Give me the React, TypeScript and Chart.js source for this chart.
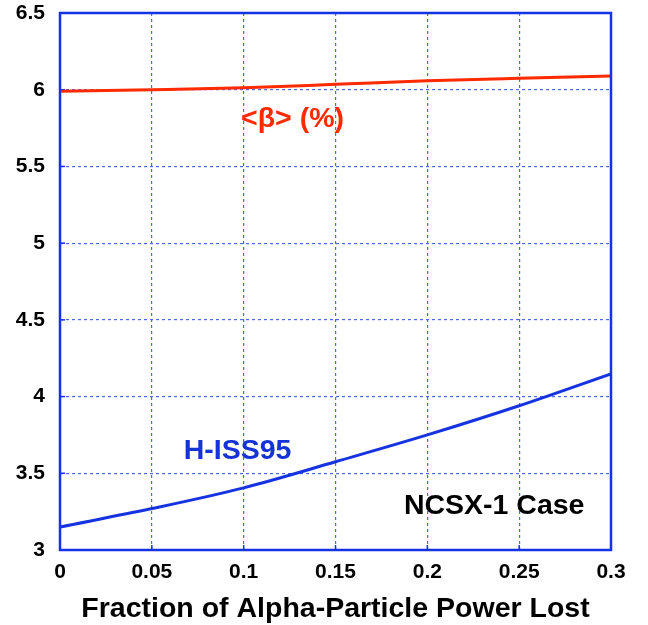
import React, { useEffect, useRef } from "react";
import { Chart, registerables } from "chart.js";

Chart.register(...registerables);

const fractionLost = [0, 0.05, 0.1, 0.15, 0.2, 0.25, 0.3];
const betaPercent = [5.99, 6.0, 6.013, 6.035, 6.058, 6.075, 6.09];
const hIss95 = [3.15, 3.27, 3.405, 3.575, 3.75, 3.94, 4.148];

const xMin = 0;
const xMax = 0.3;
const xStep = 0.05;
const yMin = 3;
const yMax = 6.5;
const yStep = 0.5;

const labels = [
  { text: "<β> (%)", x: 0.1266, y: 5.81, color: "#ff2a00" },
  { text: "H-ISS95", x: 0.0967, y: 3.642, color: "#1533d6" },
  { text: "NCSX-1 Case", x: 0.2364, y: 3.284, color: "#000000" },
];

const FONT = "'Liberation Sans', Arial, Helvetica, sans-serif";
const AXIS_BLUE = "#1533e6";
const GRID_BLUE = "#4d68f0";

const framePlugin = {
  id: "frameAndLabels",
  beforeDatasetsDraw(chart: any) {
    const { ctx, chartArea, scales } = chart;
    ctx.save();
    ctx.strokeStyle = AXIS_BLUE;
    ctx.lineWidth = 1.5;
    ctx.setLineDash([]);
    const xs = scales.x;
    const ys = scales.y;
    xs.ticks.forEach((t: any) => {
      const px = xs.getPixelForValue(t.value);
      ctx.beginPath();
      ctx.moveTo(px, chartArea.bottom);
      ctx.lineTo(px, chartArea.bottom - 5);
      ctx.stroke();
    });
    ys.ticks.forEach((t: any) => {
      const py = ys.getPixelForValue(t.value);
      ctx.beginPath();
      ctx.moveTo(chartArea.left, py);
      ctx.lineTo(chartArea.left + 5, py);
      ctx.stroke();
    });
    ctx.restore();
  },
  afterDatasetsDraw(chart: any) {
    const { ctx, chartArea, scales } = chart;
    ctx.save();
    ctx.strokeStyle = AXIS_BLUE;
    ctx.lineWidth = 2.5;
    ctx.setLineDash([]);
    ctx.strokeRect(
      chartArea.left,
      chartArea.top,
      chartArea.right - chartArea.left,
      chartArea.bottom - chartArea.top
    );
    ctx.font = `bold 28.5px ${FONT}`;
    ctx.textAlign = "center";
    ctx.textBaseline = "middle";
    labels.forEach((l) => {
      ctx.fillStyle = l.color;
      ctx.fillText(l.text, scales.x.getPixelForValue(l.x), scales.y.getPixelForValue(l.y));
    });
    ctx.restore();
  },
};

export default function App() {
  const ref = useRef<HTMLCanvasElement | null>(null);
  useEffect(() => {
    document.body.style.margin = "0";
    if (!ref.current) return;
    const chart = new Chart(ref.current, {
      type: "line",
      data: {
        datasets: [
          {
            label: "<β> (%)",
            data: fractionLost.map((x, i) => ({ x, y: betaPercent[i] })),
            borderColor: "#ff2a00",
            borderWidth: 3,
            pointRadius: 0,
            cubicInterpolationMode: "monotone",
          },
          {
            label: "H-ISS95",
            data: fractionLost.map((x, i) => ({ x, y: hIss95[i] })),
            borderColor: "#1533e0",
            borderWidth: 3,
            pointRadius: 0,
            cubicInterpolationMode: "monotone",
          },
        ],
      },
      options: {
        animation: false,
        responsive: false,
        devicePixelRatio: 1,
        layout: { padding: { top: 13, right: 37, left: 0, bottom: 0 } },
        plugins: { legend: { display: false }, tooltip: { enabled: false } },
        scales: {
          x: {
            type: "linear",
            min: xMin,
            max: xMax,
            ticks: {
              stepSize: xStep,
              color: "#000",
              font: { family: FONT, size: 21, weight: "bold" },
              padding: 10,
              maxRotation: 0,
              callback: (v: any) => String(+Number(v).toFixed(2)),
            },
            grid: {
              color: GRID_BLUE,
              lineWidth: 1.2,
              drawTicks: false,
            },
            border: { display: false, dash: [3, 3] },
            title: {
              display: true,
              text: "Fraction of Alpha-Particle Power Lost",
              color: "#000",
              font: { family: FONT, size: 28.5, weight: "bold" },
              padding: { top: 8, bottom: -1 },
            },
            afterFit: (s: any) => {
              s.height = 75;
              s.paddingLeft = 0;
              s.paddingRight = 0;
            },
          },
          y: {
            type: "linear",
            min: yMin,
            max: yMax,
            ticks: {
              stepSize: yStep,
              color: "#000",
              font: { family: FONT, size: 21, weight: "bold" },
              padding: 15,
              callback: (v: any) => String(+Number(v).toFixed(1)),
            },
            grid: {
              color: GRID_BLUE,
              lineWidth: 1.2,
              drawTicks: false,
            },
            border: { display: false, dash: [3, 3] },
            afterFit: (s: any) => {
              s.width = 60;
              s.paddingTop = 0;
              s.paddingBottom = 0;
            },
          },
        },
      },
      plugins: [framePlugin],
    } as any);
    return () => chart.destroy();
  }, []);
  return (
    <div style={{ position: "absolute", left: 0, top: 0, width: 648, height: 625, background: "#fff" }}>
      <canvas ref={ref} width={648} height={625} style={{ width: 648, height: 625, display: "block" }} />
    </div>
  );
}
